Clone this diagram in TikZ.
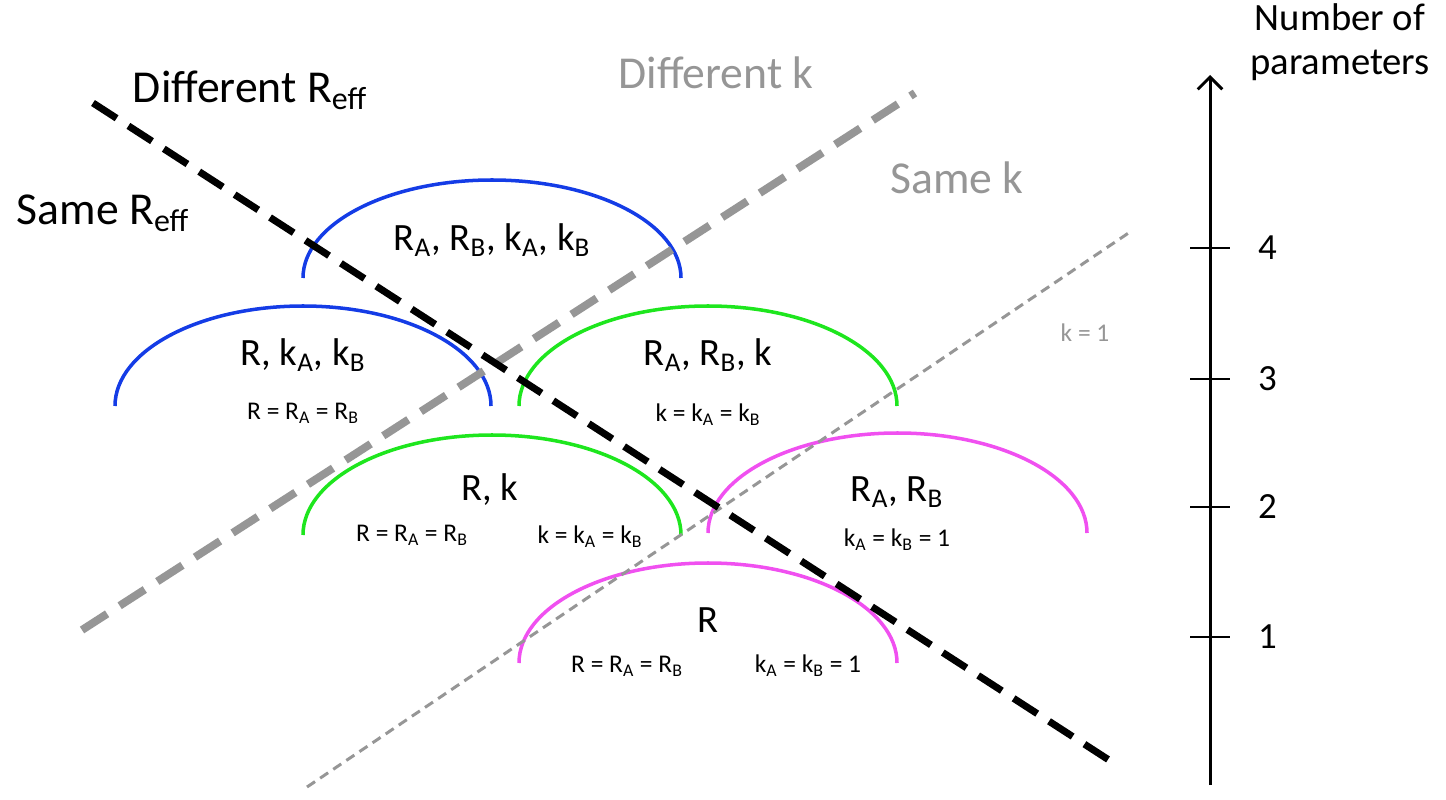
\documentclass[tikz,border=0pt]{standalone}
\usepackage{fontspec}
\setmainfont{Carlito}
\usetikzlibrary{arrows.meta}
\definecolor{cblue}{RGB}{20,60,230}
\definecolor{cgreen}{RGB}{30,230,30}
\definecolor{cmag}{RGB}{240,80,240}
\definecolor{cgray}{RGB}{150,150,150}
\begin{document}
\begin{tikzpicture}[x=0.02cm,y=-0.02cm,
  arcline/.style={line width=2pt},
  big/.style={font=\fontsize{26}{28}\selectfont},
  axlab/.style={font=\fontsize{22}{25}\selectfont},
  mid/.style={font=\fontsize{22}{25}\selectfont},
  small/.style={font=\fontsize{14.5}{17}\selectfont},
  num/.style={font=\fontsize{21}{24}\selectfont}]
\useasboundingbox (0,0) rectangle (1446,800);
% arcs
\draw[arcline,cblue] (303,278) arc[start angle=180,end angle=360,x radius=189,y radius=98];
\draw[arcline,cblue] (115,406) arc[start angle=180,end angle=360,x radius=188,y radius=100];
\draw[arcline,cgreen] (519,406) arc[start angle=180,end angle=360,x radius=189,y radius=100];
\draw[arcline,cgreen] (303,535) arc[start angle=180,end angle=360,x radius=189,y radius=100];
\draw[arcline,cmag] (708,533) arc[start angle=180,end angle=360,x radius=189.5,y radius=100];
\draw[arcline,cmag] (519,663) arc[start angle=180,end angle=360,x radius=189,y radius=100];
% lines
\coordinate (k1a) at (307,787); \coordinate (k1b) at (1130,232);
\draw[cgray,line width=1.7pt,dash pattern=on 5.5pt off 3.5pt] (k1a) -- (k1b);
\coordinate (ga) at (82,630); \coordinate (gb) at (915,93);
\draw[cgray,line width=4.5pt,dash pattern=on 17pt off 8.5pt] (ga) -- (gb);
\coordinate (ba) at (93,103); \coordinate (bb) at (1112,762);
\draw[black,line width=4pt,dash pattern=on 16pt off 8pt] (ba) -- (bb);
% axis
\coordinate (ax0) at (1210,785); \coordinate (ax1) at (1210,75);
\draw[line width=1.7pt,-{Straight Barb[length=7pt,width=14pt]}] (ax0) -- (ax1);
\foreach \y/\l in {248/4,379/3,507/2,637/1}{
  \coordinate (t\l a) at (1190,\y); \coordinate (t\l b) at (1230,\y);
  \draw[line width=1.7pt] (t\l a) -- (t\l b);
  \node[num,anchor=west] (n\l) at (1252,\y) {\l};
}
\node[axlab,align=center] (axl) at (1340,42) {Number of\\parameters};
% labels
\node[big] (dr) at (250,90) {Different R\textsubscript{eff}};
\node[big] (sr) at (103,213) {Same R\textsubscript{eff}};
\node[big,text=cgray] (dk) at (716,73) {Different k};
\node[big,text=cgray] (sk) at (957,178) {Same k};
\node[small,text=cgray] (k1) at (1085,333) {k = 1};
\node[mid] (l4) at (492,240) {R\textsubscript{A}, R\textsubscript{B}, k\textsubscript{A}, k\textsubscript{B}};
\node[mid] (l3a) at (303,355) {R, k\textsubscript{A}, k\textsubscript{B}};
\node[small] (s3a) at (303,413) {R = R\textsubscript{A} = R\textsubscript{B}};
\node[mid] (l3b) at (708,355) {R\textsubscript{A}, R\textsubscript{B}, k};
\node[small] (s3b) at (708,415) {k = k\textsubscript{A} = k\textsubscript{B}};
\node[mid] (l2a) at (490,490) {R, k};
\node[small] (s2a) at (412,535) {R = R\textsubscript{A} = R\textsubscript{B}};
\node[small] (s2b) at (590,537) {k = k\textsubscript{A} = k\textsubscript{B}};
\node[mid] (l2b) at (897,492) {R\textsubscript{A}, R\textsubscript{B}};
\node[small] (s2c) at (897,540) {k\textsubscript{A} = k\textsubscript{B} = 1};
\node[mid] (l1) at (708,620) {R};
\node[small] (s1a) at (627,666) {R = R\textsubscript{A} = R\textsubscript{B}};
\node[small] (s1b) at (808,666) {k\textsubscript{A} = k\textsubscript{B} = 1};
\end{tikzpicture}
\end{document}
